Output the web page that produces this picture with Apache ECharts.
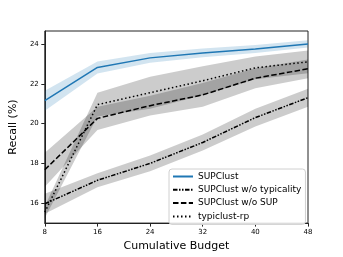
<!DOCTYPE html>
<html>
<head>
<meta charset="utf-8">
<script src="https://cdn.jsdelivr.net/npm/echarts@6/dist/echarts.min.js"></script>
<style>
html,body{margin:0;padding:0;background:#fff;}
#chart{width:343px;height:257px;}
</style>
</head>
<body>
<div id="chart"></div>
<script>
var budgets = ['8', '16', '24', '32', '40', '48'];
var yTicks = [16, 18, 20, 22, 24];

var supclust = [21.15, 22.82, 23.3, 23.55, 23.75, 24.0];
var supclustStd = [0.5, 0.3, 0.25, 0.22, 0.2, 0.18];

var noTypicality = [15.97, 17.15, 18.0, 19.05, 20.3, 21.3];
var noTypicalityStd = [0.5, 0.35, 0.4, 0.4, 0.45, 0.45];

var noSup = [17.68, 20.26, 20.9, 21.44, 22.28, 22.75];
var noSupStd = [0.85, 0.58, 0.5, 0.6, 0.5, 0.47];

var typiclustRp = [15.55, 20.95, 21.55, 22.15, 22.8, 23.1];
var typiclustRpStd = [0.3, 0.6, 0.8, 0.73, 0.57, 0.57];

var names = ['SUPClust', 'SUPClust w/o typicality', 'SUPClust w/o SUP', 'typiclust-rp'];

function band(id, mean, std, color) {
  var lower = mean.map(function (m, i) { return m - std[i]; });
  var width = std.map(function (s) { return 2 * s; });
  return [
    { type: 'line', name: id + '_lo', stack: id, data: lower, symbol: 'none',
      lineStyle: { opacity: 0 }, silent: true, z: 1 },
    { type: 'line', name: id + '_bw', stack: id, data: width, symbol: 'none',
      lineStyle: { opacity: 0 }, areaStyle: { color: color, opacity: 1 }, silent: true, z: 1 }
  ];
}
function line(name, vals, color, dash) {
  return { type: 'line', name: name, data: vals, symbol: 'none', z: 5,
    itemStyle: { color: color },
    lineStyle: { color: color, width: 1.5, type: dash, cap: 'butt' } };
}

var gray = 'rgba(0,0,0,0.2)';
var series = []
  .concat(band('b1', supclust, supclustStd, 'rgba(31,119,180,0.2)'))
  .concat(band('b2', noTypicality, noTypicalityStd, gray))
  .concat(band('b3', noSup, noSupStd, gray))
  .concat(band('b4', typiclustRp, typiclustRpStd, gray))
  .concat([
    line(names[0], supclust, '#1f77b4', 'solid'),
    line(names[1], noTypicality, '#000', [4.5, 1.5, 1.5, 1.5, 1.5, 1.5]),
    line(names[2], noSup, '#000', [5.5, 2.4]),
    line(names[3], typiclustRp, '#000', [1.5, 2.5])
  ]);

var font = 'DejaVu Sans';
var chart = echarts.init(document.getElementById('chart'), null, { renderer: 'canvas' });
chart.setOption({
  animation: false,
  backgroundColor: '#fff',
  grid: { left: 43, right: 35, top: 31, bottom: 30, show: true, borderColor: '#222', borderWidth: 1, backgroundColor: 'transparent' },
  xAxis: {
    type: 'category', data: budgets, boundaryGap: false,
    name: 'Cumulative Budget', nameLocation: 'middle', nameGap: 12,
    nameTextStyle: { fontFamily: font, fontSize: 11, color: '#000' },
    axisLine: { show: true, lineStyle: { color: '#222', width: 1 } },
    axisTick: { show: true, inside: false, length: 3.5, lineStyle: { color: '#222' } },
    axisLabel: { fontFamily: font, fontSize: 7, color: '#000', margin: 6 },
    splitLine: { show: false }
  },
  yAxis: {
    type: 'value', min: 15, max: 24.65,
    name: 'Recall (%)', nameLocation: 'middle', nameGap: 17, nameRotate: 90,
    nameTextStyle: { fontFamily: font, fontSize: 11, color: '#000' },
    axisLine: { show: true, lineStyle: { color: '#222', width: 1 } },
    axisTick: { show: true, inside: false, length: 3.5, lineStyle: { color: '#222' }, customValues: yTicks },
    axisLabel: { fontFamily: font, fontSize: 7, color: '#000', margin: 6, customValues: yTicks },
    splitLine: { show: false }
  },
  legend: {
    data: names,
    orient: 'vertical',
    left: 169, top: 169,
    itemWidth: 20, itemHeight: 10, itemGap: 3.3,
    padding: [2.5, 4, 3, 3],
    backgroundColor: 'rgba(255,255,255,0.85)',
    borderColor: '#d0d0d0', borderWidth: 1, borderRadius: 3,
    itemStyle: { opacity: 0 },
    textStyle: { fontFamily: font, fontSize: 9, color: '#000', lineHeight: 10 }
  },
  series: series
});
</script>
</body>
</html>
